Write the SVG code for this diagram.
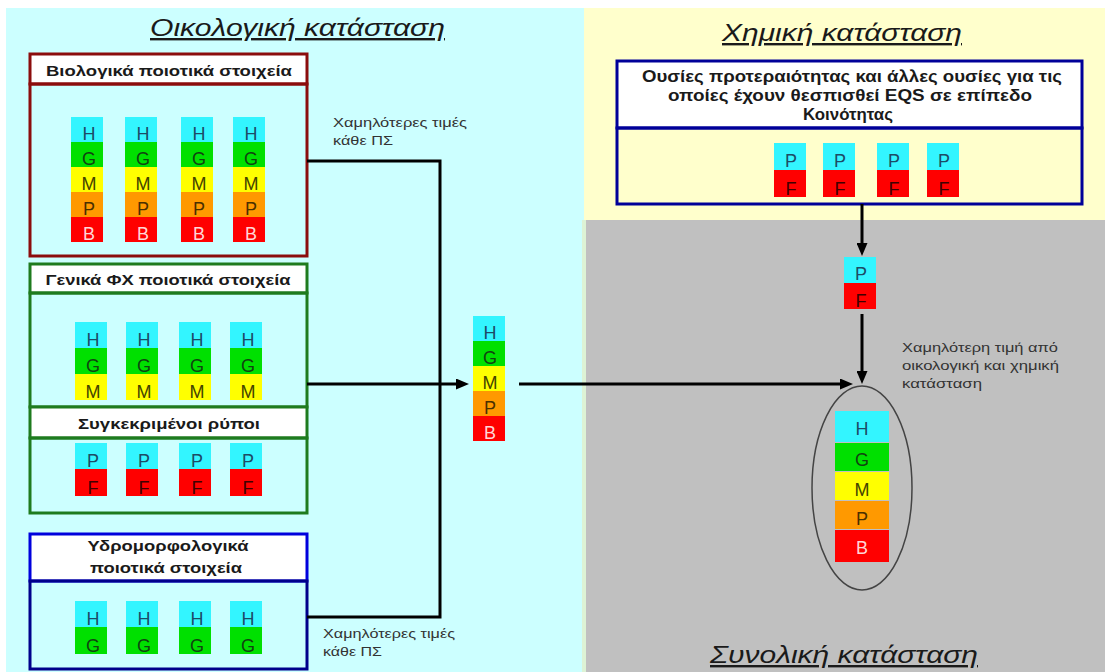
<svg xmlns="http://www.w3.org/2000/svg" width="1105" height="672" viewBox="0 0 1105 672">
<style>
.title{font-family:"Liberation Sans",Arial,sans-serif;font-style:italic;font-size:24px;fill:#1a1a1a;text-decoration:underline;}
.hdr{font-family:"Liberation Sans",Arial,sans-serif;font-weight:bold;font-size:15px;fill:#1a1a1a;text-anchor:middle;}
.hdr2{font-family:"Liberation Sans",Arial,sans-serif;font-weight:bold;font-size:16px;fill:#1a1a1a;text-anchor:middle;}
.lbl{font-family:"Liberation Sans",Arial,sans-serif;font-size:13px;fill:#333;}
.ltr{font-family:"Liberation Sans",Arial,sans-serif;font-size:18px;text-anchor:middle;}
.ch{fill:#33F5FF}.cg{fill:#00E000}.cm{fill:#FFFF00}.cp{fill:#FF9900}.cb{fill:#FF0000}
.th{fill:#1d4b66}.tg{fill:#114411}.tm{fill:#444400}.tp{fill:#4a3000}.tb{fill:#ffd6d6}.tf{fill:#400000}
.conn{stroke:#000;stroke-width:3;fill:none}
</style>
<defs>
<marker id="arr" markerUnits="userSpaceOnUse" markerWidth="13" markerHeight="11" refX="3" refY="5.5" orient="auto">
<path d="M0,0 L13,5.5 L0,11 z" fill="#000"/>
</marker>
</defs>
<rect width="1105" height="672" fill="#fff"/>
<rect x="6" y="8" width="578" height="664" fill="#CCFFFF"/>
<rect x="584" y="8" width="521" height="212" fill="#FFFFCC"/>
<rect x="584" y="220" width="521" height="452" fill="#C0C0C0"/>
<rect x="582" y="220" width="4" height="452" fill="#DDF3D5"/>

<text class="title" x="150" y="36" textLength="295" lengthAdjust="spacingAndGlyphs">Οικολογική κατάσταση</text>
<text class="title" x="722" y="41" textLength="240" lengthAdjust="spacingAndGlyphs">Χημική κατάσταση</text>
<text class="title" x="710" y="663" textLength="268" lengthAdjust="spacingAndGlyphs">Συνολική κατάσταση</text>

<g id="bio">
<rect x="30" y="54" width="277" height="30" fill="#fff" stroke="#8B0D0D" stroke-width="3"/>
<rect x="30" y="84" width="277" height="172" fill="none" stroke="#8B0D0D" stroke-width="3"/>
<text class="hdr" x="169" y="76" textLength="246" lengthAdjust="spacingAndGlyphs">Βιολογικά ποιοτικά στοιχεία</text>
<g>
<rect class="ch" x="71" y="117" width="32" height="25"/><rect class="cg" x="71" y="142" width="32" height="25"/><rect class="cm" x="71" y="167" width="32" height="25"/><rect class="cp" x="71" y="192" width="32" height="25"/><rect class="cb" x="71" y="217" width="32" height="25"/>
<text class="ltr th" x="89" y="140">H</text><text class="ltr tg" x="89" y="165">G</text><text class="ltr tm" x="89" y="190">M</text><text class="ltr tp" x="89" y="215">P</text><text class="ltr tb" x="89" y="240">B</text>
</g>
<g>
<rect class="ch" x="125" y="117" width="32" height="25"/><rect class="cg" x="125" y="142" width="32" height="25"/><rect class="cm" x="125" y="167" width="32" height="25"/><rect class="cp" x="125" y="192" width="32" height="25"/><rect class="cb" x="125" y="217" width="32" height="25"/>
<text class="ltr th" x="143" y="140">H</text><text class="ltr tg" x="143" y="165">G</text><text class="ltr tm" x="143" y="190">M</text><text class="ltr tp" x="143" y="215">P</text><text class="ltr tb" x="143" y="240">B</text>
</g>
<g>
<rect class="ch" x="181" y="117" width="32" height="25"/><rect class="cg" x="181" y="142" width="32" height="25"/><rect class="cm" x="181" y="167" width="32" height="25"/><rect class="cp" x="181" y="192" width="32" height="25"/><rect class="cb" x="181" y="217" width="32" height="25"/>
<text class="ltr th" x="199" y="140">H</text><text class="ltr tg" x="199" y="165">G</text><text class="ltr tm" x="199" y="190">M</text><text class="ltr tp" x="199" y="215">P</text><text class="ltr tb" x="199" y="240">B</text>
</g>
<g>
<rect class="ch" x="233" y="117" width="32" height="25"/><rect class="cg" x="233" y="142" width="32" height="25"/><rect class="cm" x="233" y="167" width="32" height="25"/><rect class="cp" x="233" y="192" width="32" height="25"/><rect class="cb" x="233" y="217" width="32" height="25"/>
<text class="ltr th" x="251" y="140">H</text><text class="ltr tg" x="251" y="165">G</text><text class="ltr tm" x="251" y="190">M</text><text class="ltr tp" x="251" y="215">P</text><text class="ltr tb" x="251" y="240">B</text>
</g>
</g>

<g id="physchem">
<rect x="30" y="264" width="277" height="29" fill="#fff" stroke="#1E7B1E" stroke-width="3"/>
<rect x="30" y="293" width="277" height="114" fill="none" stroke="#1E7B1E" stroke-width="3"/>
<rect x="30" y="407" width="277" height="31" fill="#fff" stroke="#1E7B1E" stroke-width="3"/>
<rect x="30" y="438" width="277" height="75" fill="none" stroke="#1E7B1E" stroke-width="3"/>
<text class="hdr" x="168" y="285" textLength="245" lengthAdjust="spacingAndGlyphs">Γενικά ΦΧ ποιοτικά στοιχεία</text>
<text class="hdr" x="169" y="429" textLength="182" lengthAdjust="spacingAndGlyphs">Συγκεκριμένοι ρύποι</text>
<g>
<rect class="ch" x="75" y="322" width="32" height="26"/><rect class="cg" x="75" y="348" width="32" height="26"/><rect class="cm" x="75" y="374" width="32" height="26"/>
<text class="ltr th" x="93" y="346">H</text><text class="ltr tg" x="93" y="372">G</text><text class="ltr tm" x="93" y="398">M</text>
<rect class="ch" x="126" y="322" width="32" height="26"/><rect class="cg" x="126" y="348" width="32" height="26"/><rect class="cm" x="126" y="374" width="32" height="26"/>
<text class="ltr th" x="144" y="346">H</text><text class="ltr tg" x="144" y="372">G</text><text class="ltr tm" x="144" y="398">M</text>
<rect class="ch" x="179" y="322" width="32" height="26"/><rect class="cg" x="179" y="348" width="32" height="26"/><rect class="cm" x="179" y="374" width="32" height="26"/>
<text class="ltr th" x="197" y="346">H</text><text class="ltr tg" x="197" y="372">G</text><text class="ltr tm" x="197" y="398">M</text>
<rect class="ch" x="230" y="322" width="32" height="26"/><rect class="cg" x="230" y="348" width="32" height="26"/><rect class="cm" x="230" y="374" width="32" height="26"/>
<text class="ltr th" x="248" y="346">H</text><text class="ltr tg" x="248" y="372">G</text><text class="ltr tm" x="248" y="398">M</text>
</g>
<g>
<rect class="ch" x="75" y="443" width="32" height="26"/><rect class="cb" x="75" y="469" width="32" height="27"/>
<text class="ltr th" x="93" y="467">P</text><text class="ltr tf" x="93" y="494">F</text>
<rect class="ch" x="126" y="443" width="32" height="26"/><rect class="cb" x="126" y="469" width="32" height="27"/>
<text class="ltr th" x="144" y="467">P</text><text class="ltr tf" x="144" y="494">F</text>
<rect class="ch" x="179" y="443" width="32" height="26"/><rect class="cb" x="179" y="469" width="32" height="27"/>
<text class="ltr th" x="197" y="467">P</text><text class="ltr tf" x="197" y="494">F</text>
<rect class="ch" x="230" y="443" width="32" height="26"/><rect class="cb" x="230" y="469" width="32" height="27"/>
<text class="ltr th" x="248" y="467">P</text><text class="ltr tf" x="248" y="494">F</text>
</g>
</g>

<g id="hydro">
<rect x="30" y="534" width="277" height="47" fill="#fff" stroke="#0000DD" stroke-width="3"/>
<rect x="30" y="581" width="277" height="88" fill="none" stroke="#00008B" stroke-width="3"/>
<text class="hdr" x="168" y="551" textLength="161" lengthAdjust="spacingAndGlyphs">Υδρομορφολογικά</text>
<text class="hdr" x="166" y="573" textLength="152" lengthAdjust="spacingAndGlyphs">ποιοτικά στοιχεία</text>
<rect class="ch" x="75" y="601" width="32" height="26"/><rect class="cg" x="75" y="627" width="32" height="27"/>
<text class="ltr th" x="93" y="625">H</text><text class="ltr tg" x="93" y="652">G</text>
<rect class="ch" x="126" y="601" width="32" height="26"/><rect class="cg" x="126" y="627" width="32" height="27"/>
<text class="ltr th" x="144" y="625">H</text><text class="ltr tg" x="144" y="652">G</text>
<rect class="ch" x="179" y="601" width="32" height="26"/><rect class="cg" x="179" y="627" width="32" height="27"/>
<text class="ltr th" x="197" y="625">H</text><text class="ltr tg" x="197" y="652">G</text>
<rect class="ch" x="230" y="601" width="32" height="26"/><rect class="cg" x="230" y="627" width="32" height="27"/>
<text class="ltr th" x="248" y="625">H</text><text class="ltr tg" x="248" y="652">G</text>
</g>

<g id="eco-result">
<rect class="ch" x="473" y="316" width="32" height="25"/><rect class="cg" x="473" y="341" width="32" height="25"/><rect class="cm" x="473" y="366" width="32" height="25"/><rect class="cp" x="473" y="391" width="32" height="25"/><rect class="cb" x="473" y="416" width="32" height="25"/>
<text class="ltr th" x="490" y="339">H</text><text class="ltr tg" x="490" y="364">G</text><text class="ltr tm" x="490" y="389">M</text><text class="ltr tp" x="490" y="414">P</text><text class="ltr tb" x="490" y="439">B</text>
</g>

<g id="chem">
<rect x="617" y="61" width="465" height="67" fill="#fff" stroke="#000099" stroke-width="3"/>
<rect x="617" y="128" width="465" height="76" fill="none" stroke="#000099" stroke-width="3"/>
<text class="hdr2" x="852" y="82" textLength="420" lengthAdjust="spacingAndGlyphs">Ουσίες προτεραιότητας και άλλες ουσίες για τις</text>
<text class="hdr2" x="850" y="101" textLength="364" lengthAdjust="spacingAndGlyphs">οποίες έχουν θεσπισθεί EQS σε επίπεδο</text>
<text class="hdr2" x="848" y="120" textLength="90" lengthAdjust="spacingAndGlyphs">Κοινότητας</text>
<rect class="ch" x="774" y="143" width="32" height="27"/><rect class="cb" x="774" y="170" width="32" height="27"/>
<text class="ltr th" x="791" y="167">P</text><text class="ltr tf" x="791" y="195">F</text>
<rect class="ch" x="823" y="143" width="32" height="27"/><rect class="cb" x="823" y="170" width="32" height="27"/>
<text class="ltr th" x="840" y="167">P</text><text class="ltr tf" x="840" y="195">F</text>
<rect class="ch" x="877" y="143" width="32" height="27"/><rect class="cb" x="877" y="170" width="32" height="27"/>
<text class="ltr th" x="894" y="167">P</text><text class="ltr tf" x="894" y="195">F</text>
<rect class="ch" x="927" y="143" width="32" height="27"/><rect class="cb" x="927" y="170" width="32" height="27"/>
<text class="ltr th" x="944" y="167">P</text><text class="ltr tf" x="944" y="195">F</text>
</g>

<g id="chem-result">
<rect class="ch" x="844" y="257" width="32" height="26"/><rect class="cb" x="844" y="283" width="32" height="26"/>
<text class="ltr th" x="861" y="280">P</text><text class="ltr tf" x="861" y="307">F</text>
</g>

<g id="overall">
<ellipse cx="862" cy="488" rx="50" ry="102" fill="none" stroke="#444" stroke-width="1.5"/>
<rect class="ch" x="835" y="411" width="54" height="31"/><rect class="cg" x="835" y="443" width="54" height="28"/><rect class="cm" x="835" y="472" width="54" height="28"/><rect class="cp" x="835" y="501" width="54" height="28"/><rect class="cb" x="835" y="530" width="54" height="32"/>
<text class="ltr th" x="862" y="435">H</text><text class="ltr tg" x="862" y="466">G</text><text class="ltr tm" x="862" y="496">M</text><text class="ltr tp" x="862" y="525">P</text><text class="ltr tb" x="862" y="554">B</text>
</g>

<g id="connectors">
<path class="conn" d="M307,161 H440 V617 H307"/>
<line class="conn" x1="307" y1="384" x2="459" y2="384" marker-end="url(#arr)"/>
<line class="conn" x1="519" y1="384" x2="843" y2="384" marker-end="url(#arr)"/>
<line class="conn" x1="862" y1="204" x2="862" y2="246" marker-end="url(#arr)"/>
<line class="conn" x1="862" y1="314" x2="862" y2="374" marker-end="url(#arr)"/>
</g>

<g id="labels">
<text class="lbl" x="333" y="127" textLength="134" lengthAdjust="spacingAndGlyphs">Χαμηλότερες τιμές</text>
<text class="lbl" x="333" y="145" textLength="60" lengthAdjust="spacingAndGlyphs">κάθε ΠΣ</text>
<text class="lbl" x="323" y="638" textLength="132" lengthAdjust="spacingAndGlyphs">Χαμηλότερες τιμές</text>
<text class="lbl" x="323" y="656" textLength="59" lengthAdjust="spacingAndGlyphs">κάθε ΠΣ</text>
<text class="lbl" x="902" y="352" textLength="156" lengthAdjust="spacingAndGlyphs">Χαμηλότερη τιμή από</text>
<text class="lbl" x="902" y="370" textLength="157" lengthAdjust="spacingAndGlyphs">οικολογική και χημική</text>
<text class="lbl" x="902" y="388" textLength="80" lengthAdjust="spacingAndGlyphs">κατάσταση</text>
</g>
</svg>
